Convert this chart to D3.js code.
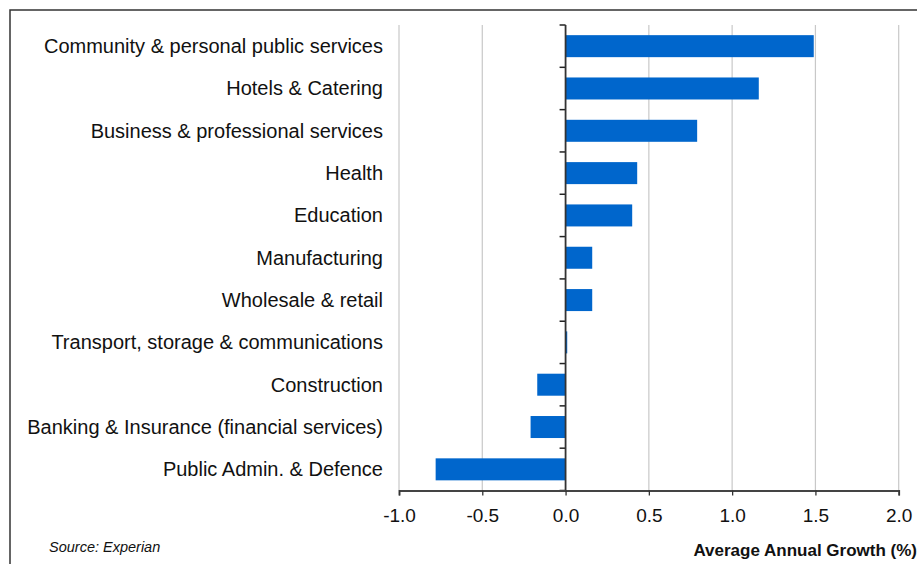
<!DOCTYPE html>
<html>
<head>
<meta charset="utf-8">
<script src="https://cdn.jsdelivr.net/npm/d3@7"></script>
<style>
  body { margin: 0; background: #fff; }
  svg { display: block; font-family: Arial, "Liberation Sans", sans-serif; }
</style>
</head>
<body>
<svg id="svg" width="917" height="564"></svg>
<script>
// sectors, top to bottom
const sectors = [
  "Community & personal public services",
  "Hotels & Catering",
  "Business & professional services",
  "Health",
  "Education",
  "Manufacturing",
  "Wholesale & retail",
  "Transport, storage & communications",
  "Construction",
  "Banking & Insurance (financial services)",
  "Public Admin. & Defence"
];
const growth = [1.49, 1.16, 0.79, 0.43, 0.40, 0.16, 0.16, 0.01, -0.17, -0.21, -0.78];
const xTicks = [-1.0, -0.5, 0.0, 0.5, 1.0, 1.5, 2.0];

const svg = d3.select("#svg");

// outer frame (cut off at right and bottom)
svg.append("rect")
  .attr("x", 10).attr("y", 10)
  .attr("width", 940).attr("height", 600)
  .attr("fill", "none")
  .attr("stroke", "#333")
  .attr("stroke-width", 1.5);

const x = d3.scaleLinear().domain([-1, 2]).range([399, 898.7]);
const y = d3.scaleBand().domain(sectors).range([25, 490.5]).paddingInner(0.48).paddingOuter(0.24);

// gridlines
svg.append("g")
  .selectAll("line")
  .data(xTicks.filter(d => d !== 0))
  .join("line")
  .attr("x1", d => x(d)).attr("x2", d => x(d))
  .attr("y1", 25).attr("y2", 490.5)
  .attr("stroke", "#c8c8c8")
  .attr("stroke-width", 1.2);

// bars
svg.append("g")
  .selectAll("rect")
  .data(sectors)
  .join("rect")
  .attr("x", (d, i) => Math.min(x(0), x(growth[i])))
  .attr("width", (d, i) => Math.abs(x(growth[i]) - x(0)))
  .attr("y", d => y(d))
  .attr("height", y.bandwidth())
  .attr("fill", "#0066cc");

// category axis at zero, ticks at band boundaries
const zero = x(0);
const bounds = d3.range(sectors.length + 1).map(i => 25 + i * (490.5 - 25) / sectors.length);
svg.append("g")
  .selectAll("line")
  .data(bounds)
  .join("line")
  .attr("x1", zero - 6).attr("x2", zero)
  .attr("y1", d => d).attr("y2", d => d)
  .attr("stroke", "#222")
  .attr("stroke-width", 1.5);
svg.append("line")
  .attr("x1", zero).attr("x2", zero)
  .attr("y1", 25).attr("y2", 490.5)
  .attr("stroke", "#333")
  .attr("stroke-width", 1.8);

// category labels
svg.append("g")
  .selectAll("text")
  .data(sectors)
  .join("text")
  .attr("x", 383)
  .attr("y", d => y(d) + y.bandwidth() / 2)
  .attr("dy", "0.35em")
  .attr("text-anchor", "end")
  .attr("font-size", 20)
  .attr("fill", "#111")
  .text(d => d);

// value axis
const xAxis = d3.axisBottom(x)
  .tickValues(xTicks)
  .tickSize(5)
  .tickPadding(13)
  .tickFormat(d3.format(".1f"));
const gx = svg.append("g")
  .attr("transform", "translate(0,490.5)")
  .call(xAxis);
gx.select(".domain").attr("stroke", "#444").attr("stroke-width", 1.8);
gx.selectAll(".tick line").attr("stroke", "#333").attr("stroke-width", 1.3);
gx.selectAll(".tick text")
  .attr("font-size", 19)
  .attr("font-family", "Arial, 'Liberation Sans', sans-serif")
  .attr("fill", "#111")
  .text(d => d3.format(".1f")(d).replace("−", "-"));

// axis title
svg.append("text")
  .attr("x", 917)
  .attr("y", 556)
  .attr("text-anchor", "end")
  .attr("font-size", 17)
  .attr("font-weight", "bold")
  .attr("fill", "#111")
  .text("Average Annual Growth (%)");

// source note
svg.append("text")
  .attr("x", 49)
  .attr("y", 552)
  .attr("font-size", 14.5)
  .attr("font-style", "italic")
  .attr("fill", "#111")
  .text("Source: Experian");
</script>
</body>
</html>
